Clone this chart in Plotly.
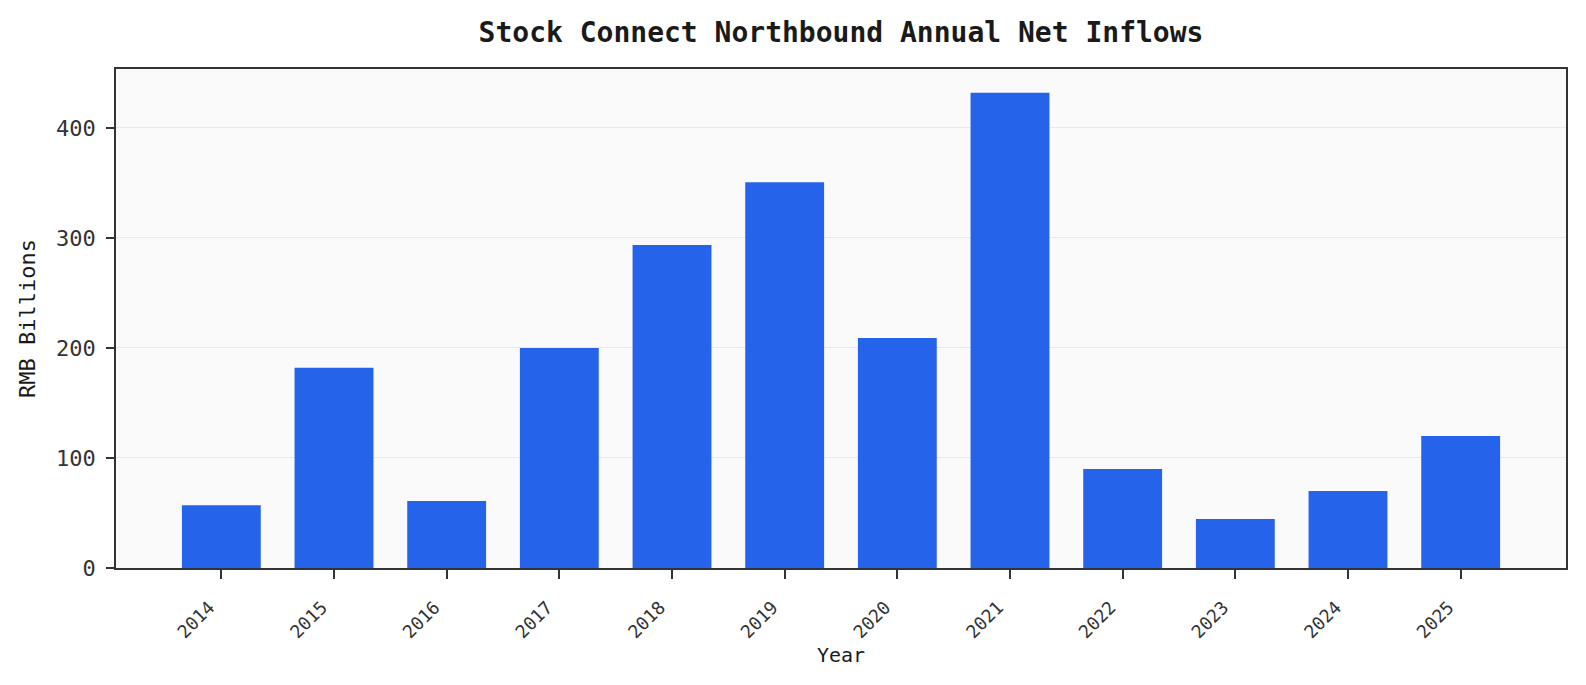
import plotly.graph_objects as go

years = ["2014", "2015", "2016", "2017", "2018", "2019", "2020", "2021", "2022", "2023", "2024", "2025"]
net_inflows = [57, 182, 61, 200, 293.5, 350.6, 209, 432, 90, 44.5, 70, 120]
y_ticks = [0, 100, 200, 300, 400]

FONT = "DejaVu Sans Mono"

fig = go.Figure(
    go.Bar(
        x=years,
        y=net_inflows,
        width=0.7,
        marker=dict(color="#2563EB", line=dict(width=0)),
    )
)

fig.update_layout(
    width=1586,
    height=685,
    margin=dict(l=116, r=20, t=69, b=117, autoexpand=False),
    paper_bgcolor="white",
    plot_bgcolor="#fafafa",
    showlegend=False,
    title=dict(
        text="<b>Stock Connect Northbound Annual Net Inflows</b>",
        font=dict(family=FONT, size=28, color="#1a1a1a"),
        x=(116 + 1566) / 2 / 1586,
        xanchor="center",
        y=1 - 32 / 685,
        yanchor="middle",
    ),
    font=dict(family=FONT, color="#333333"),
)

fig.update_xaxes(
    type="category",
    range=[-0.935, 11.935],
    showline=True,
    mirror=True,
    linecolor="#333333",
    linewidth=1.6,
    ticks="outside",
    ticklen=9,
    tickwidth=1.6,
    tickcolor="#333333",
    tickangle=-45,
    tickfont=dict(family=FONT, size=18, color="#333333"),
    ticklabelstandoff=11,
    ticklabelshift=-12,
    showgrid=False,
    zeroline=False,
    automargin=False,
    title=dict(text="Year", font=dict(family=FONT, size=20, color="#1a1a1a"), standoff=7),
)

fig.update_yaxes(
    range=[0, 453.6],
    tickvals=y_ticks,
    showline=True,
    mirror=True,
    linecolor="#333333",
    linewidth=1.6,
    ticks="outside",
    ticklen=8,
    tickwidth=1.6,
    tickcolor="#333333",
    tickfont=dict(family=FONT, size=22, color="#333333"),
    ticklabelstandoff=6,
    showgrid=True,
    gridcolor="#e9e9e9",
    gridwidth=1,
    zeroline=False,
    automargin=False,
    title=dict(text="RMB Billions", font=dict(family=FONT, size=22, color="#1a1a1a"), standoff=14),
)

fig.write_html("out.html")
